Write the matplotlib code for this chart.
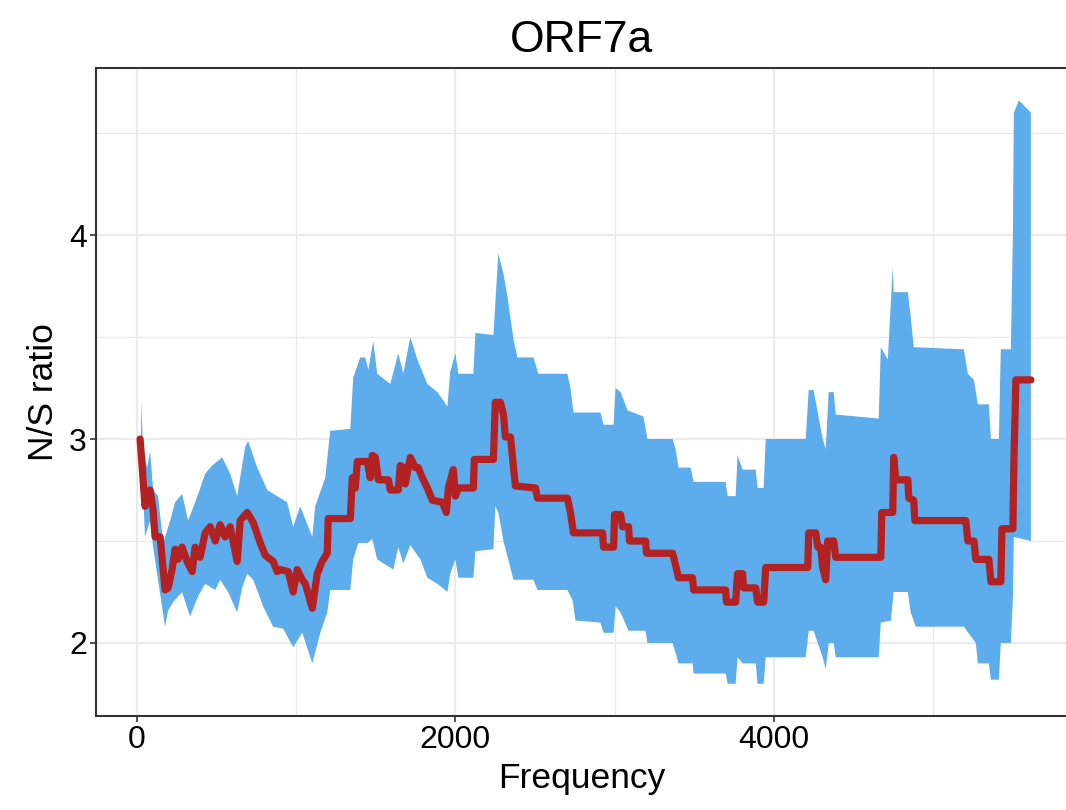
import numpy as np
import matplotlib
matplotlib.use("Agg")
import matplotlib.pyplot as plt
from matplotlib.ticker import MultipleLocator

plt.rcParams['font.family'] = ['Liberation Sans', 'DejaVu Sans']

# running N/S ratio (red step line)
freq = [19, 50, 82, 101, 113, 145, 176, 195, 220, 239, 258, 283, 314, 346, 365, 396,
        428, 459, 491, 522, 553, 585, 629, 648, 692, 730, 774, 805, 855, 880, 899, 950,
        981, 1006, 1038, 1057, 1101, 1132, 1163, 1195, 1201, 1340, 1352, 1371, 1384, 1447,
        1465, 1478, 1497, 1516, 1579, 1591, 1641, 1654, 1673, 1685, 1717, 1748, 1767, 1792,
        1824, 1855, 1918, 1943, 1956, 1987, 2000, 2019, 2113, 2119, 2239, 2251, 2283, 2302,
        2314, 2346, 2377, 2503, 2516, 2704, 2723, 2742, 2925, 2931, 2994, 3000, 3038, 3050,
        3088, 3094, 3195, 3201, 3365, 3384, 3402, 3490, 3497, 3698, 3704, 3761, 3773, 3805,
        3811, 3887, 3899, 3937, 3950, 4214, 4220, 4264, 4277, 4295, 4308, 4327, 4339, 4377,
        4390, 4673, 4679, 4748, 4754, 4767, 4843, 4849, 4880, 4887, 5207, 5220, 5258, 5270,
        5352, 5365, 5427, 5434, 5503, 5509, 5522, 5616]
ratio = [3.00, 2.67, 2.75, 2.65, 2.52, 2.52, 2.26, 2.27, 2.36, 2.46, 2.41, 2.47, 2.40, 2.35,
         2.47, 2.42, 2.54, 2.57, 2.50, 2.58, 2.52, 2.57, 2.40, 2.60, 2.64, 2.59, 2.49, 2.43,
         2.40, 2.35, 2.36, 2.35, 2.25, 2.36, 2.31, 2.29, 2.17, 2.34, 2.40, 2.44, 2.61, 2.61,
         2.81, 2.76, 2.89, 2.89, 2.81, 2.92, 2.91, 2.80, 2.80, 2.75, 2.75, 2.87, 2.86, 2.78,
         2.91, 2.86, 2.86, 2.81, 2.76, 2.70, 2.69, 2.64, 2.76, 2.85, 2.72, 2.76, 2.76, 2.90,
         2.90, 3.18, 3.18, 3.12, 3.01, 3.01, 2.77, 2.76, 2.71, 2.71, 2.64, 2.54, 2.54, 2.47,
         2.47, 2.63, 2.63, 2.57, 2.57, 2.50, 2.50, 2.44, 2.44, 2.38, 2.32, 2.32, 2.26, 2.26,
         2.20, 2.20, 2.34, 2.34, 2.27, 2.27, 2.20, 2.20, 2.37, 2.37, 2.54, 2.54, 2.47, 2.47,
         2.37, 2.31, 2.50, 2.50, 2.42, 2.42, 2.64, 2.64, 2.91, 2.80, 2.80, 2.71, 2.70, 2.60,
         2.60, 2.50, 2.50, 2.41, 2.41, 2.30, 2.30, 2.56, 2.56, 2.88, 3.29, 3.29]

# ribbon upper edge
up_x = [25, 38, 63, 82, 101, 132, 164, 208, 239, 283, 321, 384, 428, 472, 535, 585, 629,
        679, 698, 755, 818, 880, 943, 981, 1025, 1101, 1119, 1151, 1182, 1214, 1340, 1358,
        1402, 1434, 1453, 1484, 1509, 1591, 1641, 1673, 1717, 1761, 1824, 1887, 1950, 1968,
        2000, 2019, 2113, 2126, 2239, 2270, 2302, 2327, 2365, 2390, 2490, 2522, 2704, 2723,
        2742, 2912, 2931, 2994, 3006, 3038, 3082, 3182, 3207, 3365, 3384, 3402, 3478, 3497,
        3698, 3711, 3761, 3773, 3805, 3887, 3899, 3937, 3950, 4201, 4220, 4251, 4277, 4308,
        4327, 4346, 4377, 4390, 4660, 4673, 4717, 4748, 4754, 4843, 4861, 4880, 5195, 5220,
        5258, 5283, 5352, 5365, 5415, 5427, 5490, 5503, 5509, 5541, 5616]
up_y = [3.18, 2.96, 2.86, 2.94, 2.75, 2.72, 2.49, 2.60, 2.69, 2.73, 2.60, 2.73, 2.83, 2.87,
        2.91, 2.83, 2.72, 2.96, 2.99, 2.86, 2.75, 2.72, 2.69, 2.57, 2.67, 2.52, 2.67, 2.74,
        2.81, 3.04, 3.05, 3.30, 3.40, 3.40, 3.34, 3.48, 3.32, 3.27, 3.42, 3.32, 3.50, 3.39,
        3.27, 3.23, 3.16, 3.33, 3.42, 3.32, 3.32, 3.52, 3.51, 3.91, 3.81, 3.70, 3.49, 3.40,
        3.40, 3.32, 3.32, 3.25, 3.13, 3.13, 3.07, 3.07, 3.25, 3.23, 3.14, 3.11, 3.00, 3.00,
        2.95, 2.86, 2.86, 2.79, 2.79, 2.72, 2.72, 2.92, 2.85, 2.85, 2.76, 2.76, 3.00, 3.00,
        3.24, 3.24, 3.13, 3.00, 2.95, 3.23, 3.23, 3.12, 3.10, 3.45, 3.39, 3.84, 3.72, 3.72,
        3.60, 3.45, 3.44, 3.32, 3.29, 3.17, 3.17, 3.00, 3.00, 3.44, 3.44, 4.00, 4.60, 4.66,
        4.60]

# ribbon lower edge
lo_x = [25, 50, 82, 101, 126, 176, 195, 226, 283, 333, 384, 428, 491, 522, 572, 629, 660,
        692, 730, 792, 855, 918, 981, 1038, 1101, 1151, 1195, 1214, 1340, 1358, 1390, 1447,
        1478, 1509, 1610, 1641, 1673, 1717, 1780, 1824, 1887, 1950, 1968, 2000, 2019, 2113,
        2126, 2239, 2251, 2270, 2302, 2365, 2490, 2516, 2704, 2736, 2755, 2912, 2931, 2994,
        3006, 3038, 3088, 3195, 3207, 3365, 3384, 3402, 3490, 3497, 3698, 3711, 3761, 3773,
        3805, 3887, 3899, 3937, 3950, 4201, 4220, 4251, 4277, 4308, 4327, 4346, 4377, 4390,
        4660, 4673, 4736, 4754, 4843, 4861, 4893, 5195, 5270, 5283, 5352, 5365, 5415, 5427,
        5490, 5503, 5509, 5616]
lo_y = [2.95, 2.52, 2.60, 2.47, 2.34, 2.08, 2.16, 2.20, 2.25, 2.13, 2.23, 2.29, 2.26, 2.31,
        2.25, 2.15, 2.27, 2.34, 2.31, 2.18, 2.08, 2.07, 1.98, 2.05, 1.90, 2.05, 2.15, 2.26,
        2.26, 2.41, 2.49, 2.49, 2.51, 2.41, 2.36, 2.47, 2.39, 2.48, 2.41, 2.32, 2.29, 2.25,
        2.34, 2.41, 2.32, 2.32, 2.45, 2.46, 2.67, 2.64, 2.50, 2.31, 2.31, 2.26, 2.26, 2.21,
        2.11, 2.10, 2.05, 2.05, 2.18, 2.15, 2.06, 2.06, 2.00, 2.00, 1.95, 1.90, 1.90, 1.85,
        1.85, 1.80, 1.80, 1.93, 1.90, 1.90, 1.80, 1.80, 1.93, 1.93, 2.06, 2.06, 2.00, 1.93,
        1.87, 2.00, 2.00, 1.93, 1.93, 2.10, 2.11, 2.25, 2.25, 2.15, 2.08, 2.08, 2.00, 1.90,
        1.90, 1.82, 1.82, 2.00, 2.00, 2.22, 2.52, 2.50]

fig = plt.figure(figsize=(10.66, 8.10), dpi=100)
ax = fig.add_axes([96/1066, 94/810, 971/1066, 648/810])

# ribbon polygon: upper edge forward, lower edge back
ax.fill(np.concatenate([up_x, lo_x[::-1]]), np.concatenate([up_y, lo_y[::-1]]),
        color='#5DACEC', lw=0, zorder=2)
ax.plot(freq, ratio, color='#B22222', lw=5.2, solid_joinstyle='round',
        solid_capstyle='round', zorder=3)

ax.set_xlim(-258, 5843)
ax.set_ylim(1.642, 4.819)
ax.xaxis.set_major_locator(MultipleLocator(2000))
ax.xaxis.set_minor_locator(MultipleLocator(1000))
ax.yaxis.set_major_locator(MultipleLocator(1))
ax.yaxis.set_minor_locator(MultipleLocator(0.5))
ax.grid(which='major', color='#EBEBEB', lw=1.6, zorder=0)
ax.grid(which='minor', color='#EBEBEB', lw=1.0, zorder=0)
ax.set_axisbelow(True)

for s in ['left', 'bottom', 'top']:
    ax.spines[s].set_color('#333333')
    ax.spines[s].set_linewidth(1.5)
ax.spines['right'].set_visible(False)

ax.tick_params(which='major', length=4.5, width=1.2, color='#333333',
               labelsize=23, labelcolor='black', pad=2)
ax.tick_params(which='minor', length=0)

ax.set_title('ORF7a', fontsize=32, pad=11.5)
ax.set_xlabel('Frequency', fontsize=25.5)
ax.set_ylabel('N/S ratio', fontsize=25.5)
ax.xaxis.label.set_va('baseline')
ax.yaxis.label.set_va('baseline')
ax.xaxis.set_label_coords(0.5, (716 - 788) / 648)
ax.yaxis.set_label_coords((53 - 96) / 971, 0.5)

fig.savefig('out.png', dpi=100)
